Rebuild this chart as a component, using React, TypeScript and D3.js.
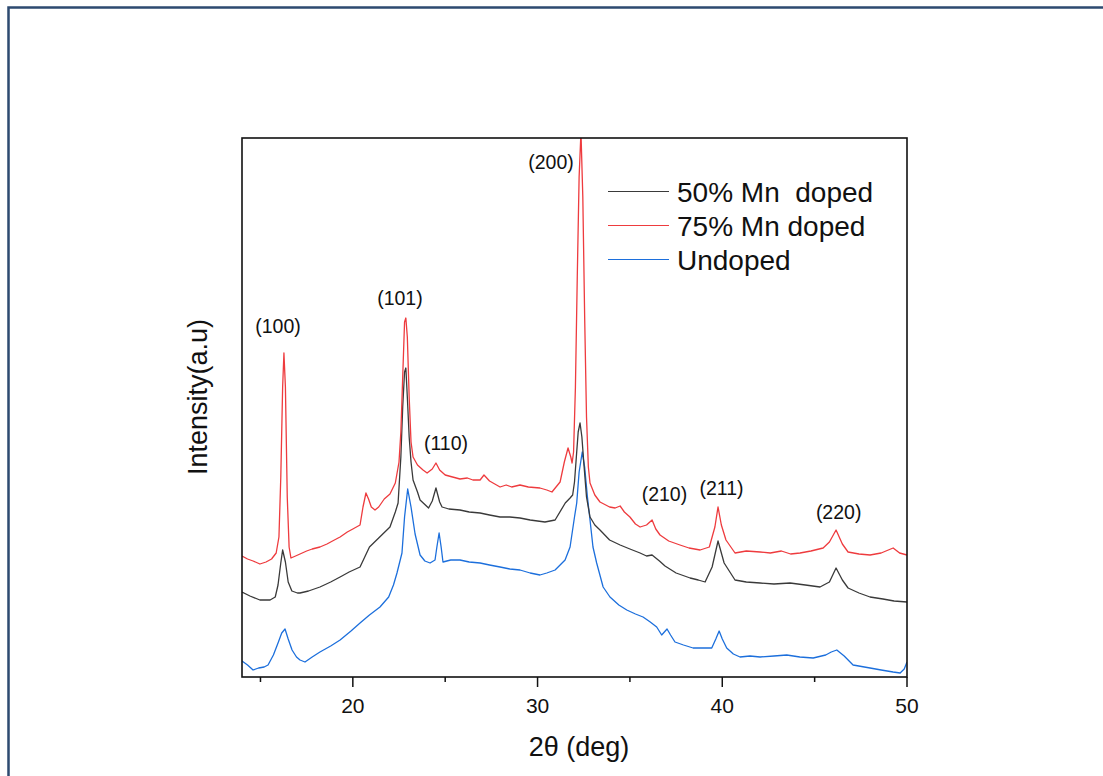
import React from "react";
import * as d3 from "d3";

// 2θ (deg) and intensity (a.u.)
const red75: [number, number][] = [
  [14.0, 121], [14.3, 118], [14.6, 116], [14.97, 113], [15.3, 115], [15.6, 118], [15.85, 124], [16.0, 140],
  [16.1, 200], [16.2, 290], [16.27, 324], [16.35, 290], [16.45, 180], [16.55, 130], [16.65, 119], [16.9, 121],
  [17.14, 123], [17.5, 126], [17.8, 128], [18.22, 130], [18.6, 133], [19.0, 137], [19.31, 140], [19.7, 145],
  [20.0, 148], [20.39, 152], [20.55, 170], [20.71, 184], [20.85, 178], [21.0, 170], [21.2, 167], [21.4, 170],
  [21.7, 178], [22.01, 183], [22.3, 194], [22.5, 215], [22.6, 245], [22.7, 300], [22.8, 355], [22.87, 359],
  [22.95, 340], [23.05, 280], [23.15, 235], [23.26, 220], [23.5, 212], [23.8, 207], [24.02, 204], [24.3, 208],
  [24.5, 214], [24.7, 207], [25.0, 202], [25.4, 200], [25.8, 198], [26.2, 199], [26.5, 197], [26.89, 197],
  [27.1, 202], [27.4, 196], [27.97, 190], [28.3, 192], [28.6, 190], [29.05, 192], [29.5, 190], [30.13, 189],
  [30.5, 187], [30.78, 185], [31.0, 190], [31.22, 195], [31.45, 215], [31.65, 229], [31.8, 220], [31.87, 214],
  [31.95, 225], [32.05, 290], [32.15, 400], [32.25, 500], [32.35, 545], [32.45, 480], [32.55, 360], [32.65, 260],
  [32.75, 210], [32.84, 194], [33.1, 182], [33.38, 175], [33.9, 170], [34.2, 169], [34.47, 171], [34.7, 165],
  [35.0, 160], [35.3, 153], [35.55, 150], [35.9, 152], [36.2, 157], [36.4, 148], [36.63, 142], [37.1, 136],
  [37.71, 132], [38.2, 129], [38.8, 127], [39.3, 130], [39.6, 150], [39.77, 170], [39.95, 152], [40.2, 137],
  [40.69, 124], [41.3, 126], [42.05, 125], [42.6, 124], [43.2, 126], [43.7, 123], [44.21, 124], [44.8, 126],
  [45.46, 129], [45.8, 135], [46.16, 147], [46.5, 133], [46.81, 125], [47.4, 123], [48.0, 122], [48.6, 124],
  [49.25, 129], [49.6, 124], [50.0, 122],
];

const black50: [number, number][] = [
  [14.0, 85], [14.43, 81], [14.97, 77], [15.52, 77], [15.8, 80], [15.95, 92], [16.1, 114], [16.2, 127],
  [16.35, 115], [16.5, 95], [16.7, 86], [17.0, 84], [17.14, 84], [17.6, 86], [18.22, 90], [18.8, 95],
  [19.31, 100], [19.8, 105], [20.39, 110], [20.9, 130], [21.4, 139], [22.01, 150], [22.3, 165], [22.45, 174],
  [22.6, 220], [22.7, 270], [22.8, 305], [22.87, 309], [22.95, 280], [23.05, 240], [23.15, 215], [23.26, 197],
  [23.5, 185], [23.64, 177], [24.1, 169], [24.3, 176], [24.5, 189], [24.7, 175], [24.83, 170], [25.2, 168],
  [25.8, 167], [26.3, 165], [26.89, 164], [27.4, 162], [27.97, 160], [28.5, 160], [29.05, 159], [29.6, 157],
  [30.4, 155], [30.95, 157], [31.5, 174], [31.76, 179], [31.9, 182], [32.0, 195], [32.1, 220], [32.2, 245],
  [32.3, 254], [32.4, 240], [32.5, 215], [32.65, 180], [32.84, 160], [33.1, 152], [33.38, 147], [33.9, 137],
  [34.47, 132], [35.0, 128], [35.55, 124], [35.9, 121], [36.2, 122], [36.6, 116], [36.9, 111], [37.5, 104],
  [38.26, 99], [38.7, 97], [39.07, 95], [39.45, 110], [39.77, 136], [40.1, 114], [40.69, 97], [41.3, 95],
  [42.05, 94], [42.8, 93], [43.67, 94], [44.5, 92], [45.29, 90], [45.8, 95], [46.16, 109], [46.5, 97],
  [46.81, 89], [47.4, 84], [48.0, 80], [48.7, 78], [49.3, 76], [50.0, 75],
];

const blueUndoped: [number, number][] = [
  [14.0, 16], [14.3, 12], [14.6, 7], [14.9, 9], [15.2, 10], [15.41, 12], [15.7, 22], [15.95, 34],
  [16.15, 44], [16.33, 48], [16.5, 38], [16.71, 27], [16.95, 20], [17.14, 17], [17.41, 15], [17.8, 20],
  [18.22, 25], [18.8, 31], [19.31, 37], [19.9, 46], [20.39, 54], [20.9, 62], [21.47, 70], [21.94, 80],
  [22.2, 92], [22.39, 104], [22.66, 124], [22.8, 160], [22.97, 188], [23.15, 170], [23.37, 143], [23.64, 122],
  [23.9, 116], [24.18, 114], [24.45, 117], [24.55, 130], [24.67, 144], [24.78, 130], [24.88, 115], [25.3, 117],
  [25.8, 117], [26.3, 115], [26.89, 114], [27.4, 112], [27.97, 110], [28.5, 108], [29.05, 107], [29.6, 104],
  [30.13, 102], [30.5, 104], [30.95, 107], [31.49, 117], [31.76, 130], [32.0, 160], [32.12, 174], [32.25, 205],
  [32.42, 225], [32.55, 210], [32.7, 180], [32.84, 157], [33.0, 130], [33.2, 114], [33.55, 90], [33.92, 80],
  [34.4, 72], [34.83, 67], [35.3, 63], [35.71, 60], [36.1, 55], [36.45, 50], [36.72, 42], [37.01, 48],
  [37.2, 42], [37.44, 35], [37.9, 32], [38.42, 29], [38.9, 29], [39.43, 29], [39.65, 38], [39.83, 46],
  [40.0, 38], [40.24, 29], [40.6, 23], [40.96, 20], [41.5, 21], [42.05, 20], [42.8, 21], [43.49, 22],
  [44.2, 20], [44.92, 19], [45.6, 22], [45.9, 25], [46.2, 27], [46.6, 21], [47.08, 12], [48.0, 9],
  [48.6, 7], [49.25, 5], [49.63, 4], [49.85, 8], [50.0, 15],
];

const seriesNames = ["50% Mn  doped", "75% Mn doped", "Undoped"];
const seriesColors = ["#3a3a3a", "#ee3b3e", "#1c6fdc"];

const majorTicks = [20, 30, 40, 50];
const minorTicks = [15, 25, 35, 45];

const peakLabels = ["(100)", "(101)", "(200)", "(110)", "(210)", "(211)", "(220)"];
const peakX = [15.95, 22.55, 30.73, 25.04, 36.87, 39.96, 46.3];
const peakY = [344, 372, 508, 227, 176, 182, 158];

const FONT = "'Liberation Sans', Arial, Helvetica, sans-serif";

export default function App() {
  const left = 242, right = 907, top = 138, bottom = 677;
  const x = d3.scaleLinear().domain([14, 50]).range([left, right]);
  const y = d3.scaleLinear().domain([0, 539]).range([bottom, top]);
  const line = d3
    .line<[number, number]>()
    .x((d) => x(d[0]))
    .y((d) => y(d[1]));

  const data = [black50, red75, blueUndoped];
  const drawOrder = [2, 0, 1];

  return (
    <svg
      width={1103}
      height={776}
      style={{ position: "absolute", left: 0, top: 0, background: "#fff" }}
      fontFamily={FONT}
    >
      <rect x={0} y={0} width={1103} height={776} fill="#fff" />
      <rect x={8.5} y={7.5} width={1200} height={900} fill="none" stroke="#2d4a70" strokeWidth={2.5} />
      <defs>
        <clipPath id="plotclip">
          <rect x={left} y={top} width={right - left} height={bottom - top} />
        </clipPath>
      </defs>
      <g clipPath="url(#plotclip)">
        {drawOrder.map((i) => (
          <path key={i} d={line(data[i]) || ""} fill="none" stroke={seriesColors[i]} strokeWidth={1.3} strokeLinejoin="round" />
        ))}
      </g>
      <rect x={left} y={top} width={right - left} height={bottom - top} fill="none" stroke="#111" strokeWidth={1.6} />
      {majorTicks.map((t) => (
        <g key={"M" + t}>
          <line x1={x(t)} x2={x(t)} y1={bottom} y2={bottom + 10} stroke="#111" strokeWidth={1.5} />
          <text x={x(t)} y={713} textAnchor="middle" fontSize={21} fill="#111">
            {t}
          </text>
        </g>
      ))}
      {minorTicks.map((t) => (
        <line key={"m" + t} x1={x(t)} x2={x(t)} y1={bottom} y2={bottom + 5} stroke="#111" strokeWidth={1.5} />
      ))}
      <text x={579} y={756} textAnchor="middle" fontSize={27} fill="#111">
        2θ (deg)
      </text>
      <text transform="translate(207,397) rotate(-90)" textAnchor="middle" fontSize={27} fill="#111">
        Intensity(a.u)
      </text>
      {peakLabels.map((p, i) => (
        <text key={p} x={x(peakX[i])} y={y(peakY[i])} textAnchor="middle" fontSize={19.5} fill="#111">
          {p}
        </text>
      ))}
      {seriesNames.map((n, i) => (
        <g key={n}>
          <line x1={608} x2={669} y1={191.5 + i * 34} y2={191.5 + i * 34} stroke={seriesColors[i]} strokeWidth={1.2} />
          <text x={677} y={201.5 + i * 34} fontSize={28} fill="#111" style={{ whiteSpace: "pre" }}>
            {n}
          </text>
        </g>
      ))}
    </svg>
  );
}
